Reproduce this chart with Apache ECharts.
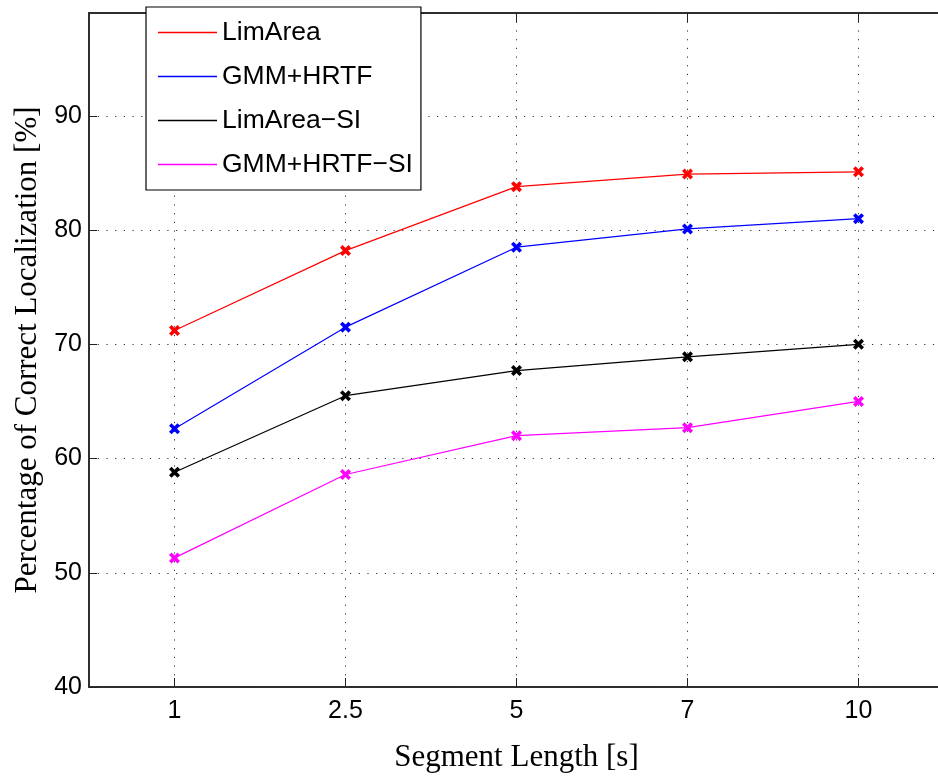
<!DOCTYPE html>
<html>
<head>
<meta charset="utf-8">
<script src="https://cdn.jsdelivr.net/npm/echarts@6/dist/echarts.min.js"></script>
<style>
  html, body { margin: 0; padding: 0; background: #fff; overflow: hidden; }
  #chart { width: 950px; height: 778px; }
</style>
</head>
<body>
<div id="chart"></div>
<script>
// Segment lengths (s) on the x axis
const segmentLengths = ['1', '2.5', '5', '7', '10'];

// Localization accuracy (%) per method
const limArea      = [71.2, 78.2, 83.8, 84.9, 85.1];
const gmmHrtf      = [62.6, 71.5, 78.5, 80.1, 81.0];
const limAreaSI    = [58.8, 65.5, 67.7, 68.9, 70.0];
const gmmHrtfSI    = [51.3, 58.6, 62.0, 62.7, 65.0];

const seriesNames  = ['LimArea', 'GMM+HRTF', 'LimArea\u2212SI', 'GMM+HRTF\u2212SI'];
const seriesColors = ['#ff0000', '#0000ff', '#000000', '#ff00ff'];
const seriesData   = [limArea, gmmHrtf, limAreaSI, gmmHrtfSI];

const yTickValues = [40, 50, 60, 70, 80, 90];

// bold "x" marker
const crossMarker = 'path://M0,2.3L2.3,0L5,2.7L7.7,0L10,2.3L7.3,5L10,7.7L7.7,10L5,7.3L2.3,10L0,7.7L2.7,5Z';
const dotted = { type: [1.2, 7.5], color: '#333', width: 1 };
const sans = 'Liberation Sans, Arial, Helvetica, sans-serif';
const serif = 'Liberation Serif, Times New Roman, serif';

const chart = echarts.init(document.getElementById('chart'), null, { renderer: 'canvas' });

chart.setOption({
  animation: false,
  backgroundColor: '#fff',
  grid: {
    left: 89, top: 13, width: 855, height: 674,
    show: true, borderColor: '#222', borderWidth: 1.5, backgroundColor: 'transparent'
  },
  legend: {
    orient: 'vertical',
    left: 146, top: 7,
    padding: [12, 8, 12, 12],
    itemWidth: 59, itemHeight: 1.5, itemGap: 17,
    icon: 'rect',
    backgroundColor: '#fff',
    borderColor: '#000', borderWidth: 1.2,
    textStyle: { fontFamily: sans, fontSize: 26.5, lineHeight: 26, color: '#000' },
    data: seriesNames,
    z: 10
  },
  xAxis: [{
    type: 'category',
    data: segmentLengths,
    boundaryGap: true,
    name: 'Segment Length [s]',
    nameLocation: 'middle',
    nameGap: 55,
    nameTextStyle: { fontFamily: serif, fontSize: 31, color: '#000' },
    axisLine: { show: true, lineStyle: { color: '#222', width: 1.5 } },
    axisTick: { show: true, inside: true, alignWithLabel: true, length: 9, lineStyle: { color: '#222', width: 1 } },
    axisLabel: { fontFamily: sans, fontSize: 25, color: '#000', margin: 12 },
    splitLine: { show: true, alignWithLabel: true, lineStyle: dotted }
  }, {
    type: 'category',
    data: segmentLengths,
    position: 'top',
    boundaryGap: true,
    axisLine: { show: true, lineStyle: { color: '#222', width: 1.5 } },
    axisTick: { show: true, inside: true, alignWithLabel: true, length: 9, lineStyle: { color: '#222', width: 1 } },
    axisLabel: { show: false },
    splitLine: { show: false }
  }],
  yAxis: {
    type: 'value',
    min: 40, max: 99, interval: 10,
    name: 'Percentage of Correct Localization [%]',
    nameLocation: 'middle',
    nameGap: 46,
    nameTextStyle: { fontFamily: serif, fontSize: 31, color: '#000' },
    axisLine: { show: true, lineStyle: { color: '#222', width: 1.5 } },
    axisTick: { show: true, inside: true, length: 8, lineStyle: { color: '#222', width: 1 } },
    axisLabel: {
      fontFamily: sans, fontSize: 25, color: '#000', margin: 7,
      showMaxLabel: false,
      formatter: v => (yTickValues.indexOf(v) >= 0 ? String(v) : '')
    },
    splitLine: { show: true, lineStyle: dotted }
  },
  series: seriesNames.map((name, i) => ({
    name: name,
    type: 'line',
    xAxisIndex: 0,
    data: seriesData[i],
    symbol: crossMarker,
    symbolSize: 11,
    showAllSymbol: true,
    lineStyle: { color: seriesColors[i], width: 1.2 },
    itemStyle: { color: seriesColors[i] },
    emphasis: { disabled: true },
    z: 3
  }))
});
</script>
</body>
</html>
